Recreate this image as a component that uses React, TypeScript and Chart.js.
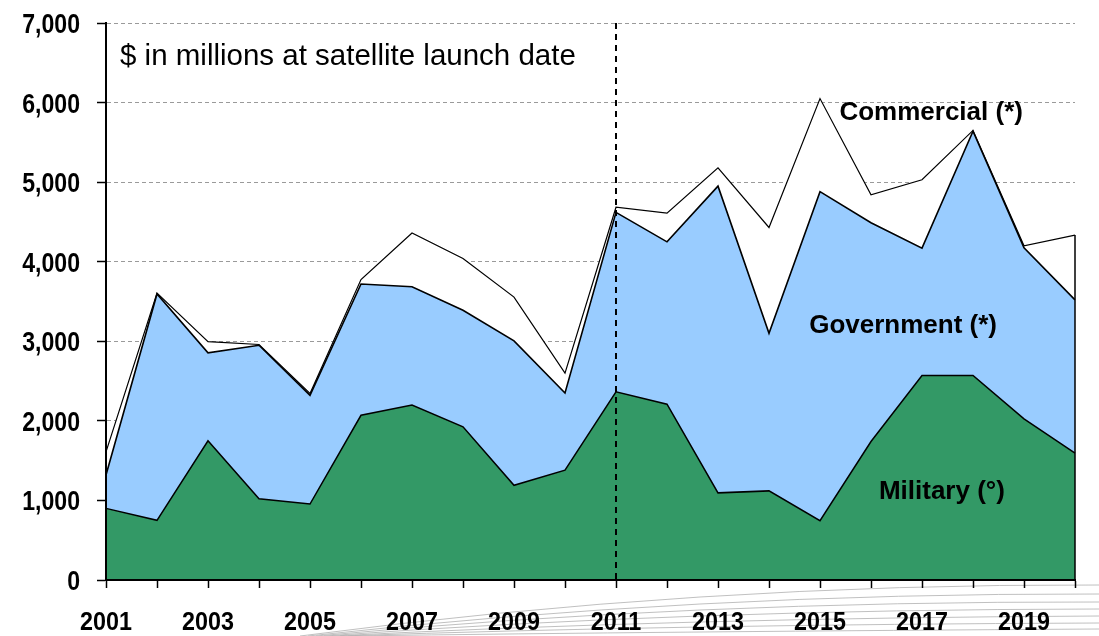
import React, { useEffect, useRef } from "react";
import { Chart, registerables } from "chart.js";

Chart.register(...registerables);

const years = ["2001","2002","2003","2004","2005","2006","2007","2008","2009","2010","2011","2012","2013","2014","2015","2016","2017","2018","2019","2020"];
const militaryValues = [900, 750, 1750, 1020, 955, 2070, 2200, 1925, 1190, 1380, 2365, 2210, 1095, 1120, 745, 1740, 2570, 2570, 2025, 1595];
const governmentValues = [420, 2845, 1105, 1930, 1365, 1650, 1485, 1465, 1815, 970, 2255, 2040, 3855, 1980, 4135, 2750, 1600, 3070, 2150, 1925];
const commercialValues = [290, 10, 140, 10, 25, 55, 675, 650, 550, 250, 65, 360, 230, 1330, 1170, 350, 860, 10, 25, 815];
const yTicks = [0, 1000, 2000, 3000, 4000, 5000, 6000, 7000];
const markerYearIndex = 10;

const sans = "'Liberation Sans', Arial, Helvetica, sans-serif";

const annotationPlugin = {
  id: "annotations",
  beforeDraw(chart: any) {
    const ctx = chart.ctx;
    const w = chart.width;
    const h = chart.height;
    const mids = [597, 604, 610, 616, 622, 627, 632];
    const ends = [585, 594, 602, 609, 616, 623, 629];
    ctx.save();
    ctx.strokeStyle = "#b0b0b0";
    ctx.lineWidth = 0.8;
    ends.forEach((ye, k) => {
      const x0 = 300 + k * 8;
      const y0 = h;
      const mx = 700;
      const my = mids[k];
      const cx = 2 * mx - 0.5 * (x0 + w);
      const cy = 2 * my - 0.5 * (y0 + ye);
      ctx.beginPath();
      ctx.moveTo(x0, y0);
      ctx.quadraticCurveTo(cx, cy, w, ye);
      ctx.stroke();
    });
    ctx.restore();
  },
  afterDatasetsDraw(chart: any) {
    const ctx = chart.ctx;
    const xs = chart.scales.x;
    const ys = chart.scales.y;
    const area = chart.chartArea;
    ctx.save();
    const last = years.length - 1;
    const total = militaryValues[last] + governmentValues[last] + commercialValues[last];
    const xl = xs.getPixelForValue(last);
    ctx.strokeStyle = "#000";
    ctx.lineWidth = 1.5;
    ctx.beginPath();
    ctx.moveTo(xl, ys.getPixelForValue(total));
    ctx.lineTo(xl, ys.getPixelForValue(0));
    ctx.stroke();
    const xm = xs.getPixelForValue(markerYearIndex);
    ctx.setLineDash([6, 5]);
    ctx.lineWidth = 2;
    ctx.beginPath();
    ctx.moveTo(xm, area.top);
    ctx.lineTo(xm, area.bottom);
    ctx.stroke();
    ctx.setLineDash([]);
    ctx.fillStyle = "#000";
    ctx.textBaseline = "middle";
    ctx.textAlign = "left";
    ctx.font = `29.5px ${sans}`;
    ctx.fillText("$ in millions at satellite launch date", area.left + 14, area.top + 34);
    ctx.textAlign = "center";
    ctx.font = `bold 26px ${sans}`;
    ctx.fillText("Commercial (*)", xs.getPixelForValue(16.18), ys.getPixelForValue(5867));
    ctx.fillText("Government (*)", xs.getPixelForValue(15.63), ys.getPixelForValue(3191));
    ctx.fillText("Military (°)", xs.getPixelForValue(16.39), ys.getPixelForValue(1105));
    ctx.restore();
  },
  afterDraw(chart: any) {
    const ctx = chart.ctx;
    const xs = chart.scales.x;
    const ys = chart.scales.y;
    ctx.save();
    ctx.fillStyle = "#000";
    ctx.textBaseline = "alphabetic";
    ctx.font = `bold 27.5px ${sans}`;
    ctx.textAlign = "right";
    const sy = 0.84;
    yTicks.forEach((v) => {
      const y = ys.getPixelForValue(v);
      ctx.save();
      ctx.translate(80, y + 10);
      ctx.scale(sy, 1);
      ctx.fillText(v.toLocaleString("en-US"), 0, 0);
      ctx.restore();
    });
    ctx.font = `bold 26.5px ${sans}`;
    ctx.textAlign = "center";
    const sx = 0.88;
    years.forEach((yr, i) => {
      if (i % 2 !== 0) return;
      const x = xs.getPixelForValue(i);
      ctx.save();
      ctx.translate(x, 630);
      ctx.scale(sx, 1);
      ctx.fillText(yr, 0, 0);
      ctx.restore();
    });
    ctx.restore();
  },
};

export default function App() {
  const ref = useRef<HTMLCanvasElement>(null);
  useEffect(() => {
    if (!ref.current) return;
    const chart = new Chart(ref.current, {
      type: "line",
      data: {
        labels: years,
        datasets: [
          {
            label: "Military",
            data: militaryValues,
            fill: "origin",
            backgroundColor: "#339966",
            borderColor: "#000",
            borderWidth: 1.5,
            pointRadius: 0,
            tension: 0,
          },
          {
            label: "Government",
            data: governmentValues,
            fill: "-1",
            backgroundColor: "#99CCFF",
            borderColor: "#000",
            borderWidth: 1.6,
            pointRadius: 0,
            tension: 0,
          },
          {
            label: "Commercial",
            data: commercialValues,
            fill: "-1",
            backgroundColor: "#FFFFFF",
            borderColor: "#000",
            borderWidth: 1.2,
            pointRadius: 0,
            tension: 0,
          },
        ],
      },
      options: {
        responsive: false,
        animation: false,
        layout: { padding: { top: 23, right: 24, left: 0, bottom: 0 } },
        plugins: { legend: { display: false }, tooltip: { enabled: false } },
        scales: {
          x: {
            type: "category",
            offset: false,
            afterFit(scale: any) { scale.height = 56; },
            grid: { display: true, drawOnChartArea: false, drawTicks: true, tickLength: 8, tickColor: "#000", tickWidth: 1.5 },
            border: { display: true, color: "#000", width: 2, z: 1 },
            ticks: { display: false, autoSkip: false, maxRotation: 0, minRotation: 0 },
          },
          y: {
            stacked: true,
            min: 0,
            max: 7000,
            afterFit(scale: any) { scale.width = 106; },
            afterBuildTicks(scale: any) { scale.ticks = yTicks.map((v) => ({ value: v })); },
            grid: { color: "#9a9a9a", lineWidth: 1, tickColor: "#000", tickLength: 9, tickWidth: 1.5 },
            border: { display: true, color: "#000", width: 2, dash: [4, 3], z: 1 },
            ticks: { display: false },
          },
        },
      },
      plugins: [annotationPlugin],
    } as any);
    return () => chart.destroy();
  }, []);
  return (
    <div style={{ position: "absolute", left: 0, top: 0, width: 1099, height: 636, background: "#fff" }}>
      <canvas ref={ref} width={1099} height={636} style={{ display: "block" }} />
    </div>
  );
}
